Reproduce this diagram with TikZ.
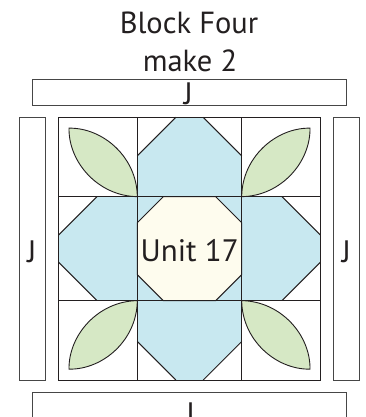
\documentclass[tikz,border=0pt]{standalone}
\usepackage{fontspec}
\setmainfont{PT Sans}
\definecolor{petal}{RGB}{200,232,240}
\definecolor{leafgreen}{RGB}{214,232,197}
\definecolor{cream}{RGB}{254,252,238}
\definecolor{ink}{RGB}{35,31,32}
\definecolor{stripline}{RGB}{70,70,70}
\tikzset{
  cellline/.style={draw=ink, line width=1pt, line join=miter},
  stripbox/.style={draw=stripline, line width=0.9pt},
  labeltext/.style={text=ink, inner sep=0pt, anchor=base, font=\fontsize{31}{36}\selectfont},
  titletext/.style={text=ink, inner sep=0pt, anchor=base, font=\fontsize{30.5}{36}\selectfont},
  leafshape/.style={fill=leafgreen, draw=ink, line width=0.9pt},
}
\begin{document}
\begin{tikzpicture}[x=1pt, y=-1pt]
\useasboundingbox (0,0) rectangle (365,417);
\clip (0,0) rectangle (365,417);
% title
\node[titletext] (title1) at (189,34) {Block Four};
\node[titletext] (title2) at (190,72) {make 2};
% strips
\draw[stripbox] (32.3,79) rectangle (346.7,105.7);
\draw[stripbox] (32.3,392.3) rectangle (346.7,440);
\draw[stripbox] (19.3,117.3) rectangle (45.7,380);
\draw[stripbox] (333.3,117.3) rectangle (359.3,380);
\node[labeltext] (jtop) at (188.5,105) {J};
\node[labeltext] (jbottom) at (190.5,424) {J};
\node[labeltext] (jleft) at (32,262.3) {J};
\node[labeltext] (jright) at (346.5,262) {J};
% block background
\fill[white] (58.5,117.3) rectangle (320.5,380);
% blue cross
\fill[petal] (175.8,117.3) -- (203.2,117.3) -- (241.7,155.8) -- (241.7,196.7)
  -- (282,196.7) -- (320.5,235.2) -- (320.5,262.1) -- (282,300.6) -- (241.7,300.6)
  -- (241.7,341.5) -- (203.2,380) -- (175.8,380) -- (137.3,341.5) -- (137.3,300.6)
  -- (97,300.6) -- (58.5,262.1) -- (58.5,235.2) -- (97,196.7) -- (137.3,196.7)
  -- (137.3,155.8) -- cycle;
% diagonals of the cross
\draw[cellline] (175.8,117.3) -- (137.3,155.8);
\draw[cellline] (203.2,117.3) -- (241.7,155.8);
\draw[cellline] (282,196.7) -- (320.5,235.2);
\draw[cellline] (320.5,262.1) -- (282,300.6);
\draw[cellline] (241.7,341.5) -- (203.2,380);
\draw[cellline] (175.8,380) -- (137.3,341.5);
\draw[cellline] (97,300.6) -- (58.5,262.1);
\draw[cellline] (58.5,235.2) -- (97,196.7);
% centre octagon
\draw[cellline, fill=cream] (163.3,196.7) -- (215.7,196.7) -- (241.7,222.7) -- (241.7,274.6)
  -- (215.7,300.6) -- (163.3,300.6) -- (137.3,274.6) -- (137.3,222.7) -- cycle;
\node[labeltext] (unit) at (189.7,261.7) {Unit 17};
% leaves
\foreach \sx/\sy in {1/1,-1/1,1/-1,-1/-1}{
  \begin{scope}[shift={(189.5,248.65)}, xscale=\sx, yscale=\sy]
    \draw[leafshape] (-120.5,-120.5) .. controls (-86,-121) and (-52.5,-91) .. (-52.2,-52)
      .. controls (-91,-52.5) and (-121,-86) .. cycle;
  \end{scope}
}
% grid
\draw[cellline] (58.5,117.3) rectangle (320.5,380);
\draw[cellline] (137.3,117.3) -- (137.3,380);
\draw[cellline] (241.7,117.3) -- (241.7,380);
\draw[cellline] (58.5,196.7) -- (320.5,196.7);
\draw[cellline] (58.5,300.6) -- (320.5,300.6);
\end{tikzpicture}
\end{document}
